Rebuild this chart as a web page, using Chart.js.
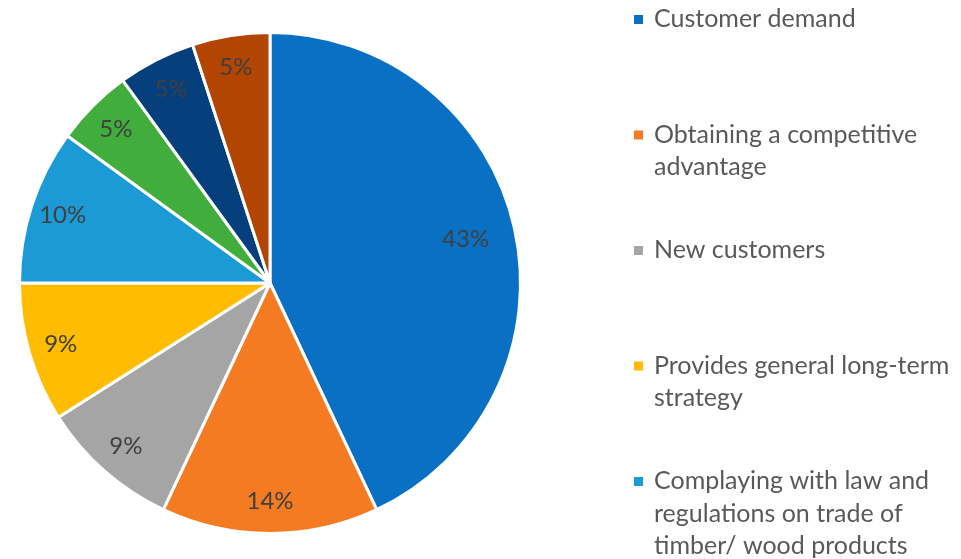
<!DOCTYPE html>
<html>
<head>
<meta charset="utf-8">
<script src="https://cdn.jsdelivr.net/npm/chart.js@4"></script>
<style>
  html, body { margin: 0; padding: 0; background: #fff; }
  #wrap { width: 961px; height: 559px; position: relative; }
</style>
</head>
<body>
<div id="wrap"><canvas id="pieChart"></canvas></div>
<script>
// data (clockwise from 12 o'clock)
const labels = [
  ['Customer demand'],
  ['Obtaining a competitive', 'advantage'],
  ['New customers'],
  ['Provides general long-term', 'strategy'],
  ['Complaying with law and', 'regulations on trade of', 'timber/ wood products'],
  ['Other reason 1'],
  ['Other reason 2'],
  ['Other reason 3']
];
const values = [43, 14, 9, 9, 10, 5, 5, 5];
const colors = ['#0A70C4', '#F47B22', '#A5A5A5', '#FFBC00', '#1B9AD6', '#40AD3C', '#053F7C', '#B34503'];

// percentage labels inside the slices
const sliceLabels = {
  id: 'sliceLabels',
  afterDatasetsDraw(chart) {
    const ctx = chart.ctx;
    const meta = chart.getDatasetMeta(0);
    const total = values.reduce((a, b) => a + b, 0);
    ctx.save();
    ctx.font = '24px Lato';
    ctx.fillStyle = '#404040';
    ctx.textAlign = 'center';
    ctx.textBaseline = 'middle';
    meta.data.forEach((arc, i) => {
      const p = arc.getProps(['x', 'y', 'startAngle', 'endAngle', 'outerRadius']);
      const mid = (p.startAngle + p.endAngle) / 2;
      // the big slice keeps its label a little further in
      const r = p.outerRadius * (values[i] > 30 ? 0.8 : 0.87);
      ctx.fillText(Math.round(values[i] / total * 100) + '%', p.x + Math.cos(mid) * r, p.y + Math.sin(mid) * r);
    });
    ctx.restore();
  }
};

// legend on the right, fixed spacing like the original (runs off the bottom)
const sideLegend = {
  id: 'sideLegend',
  afterDraw(chart) {
    const ctx = chart.ctx;
    ctx.save();
    ctx.font = '25px Lato';
    ctx.textBaseline = 'middle';
    labels.forEach((lines, i) => {
      const y0 = 19 + i * 115.5;
      ctx.fillStyle = colors[i];
      ctx.fillRect(634, y0 - 4, 9, 9);
      ctx.fillStyle = '#595959';
      lines.forEach((t, j) => ctx.fillText(t, 654, y0 + j * 32.5));
    });
    ctx.restore();
  }
};

new Chart(document.getElementById('pieChart'), {
  type: 'pie',
  data: {
    labels: labels.map(l => l.join(' ')),
    datasets: [{
      data: values,
      backgroundColor: colors,
      borderColor: '#ffffff',
      borderWidth: 3
    }]
  },
  options: {
    responsive: true,
    maintainAspectRatio: false,
    animation: false,
    layout: { padding: { left: 18, right: 439, top: 31, bottom: 24 } },
    plugins: {
      legend: { display: false },
      tooltip: { enabled: false }
    }
  },
  plugins: [sliceLabels, sideLegend]
});
</script>
</body>
</html>
